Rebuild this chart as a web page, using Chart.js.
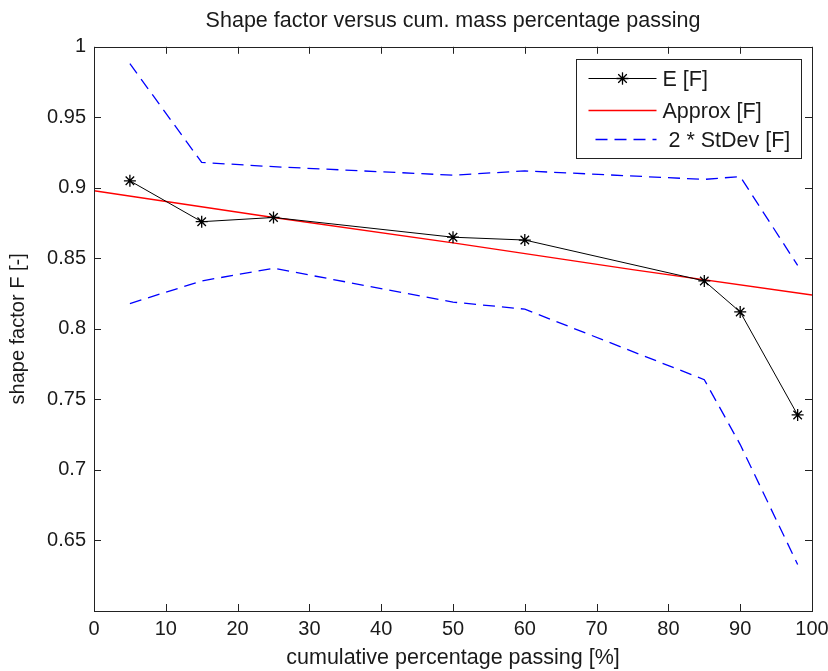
<!DOCTYPE html>
<html>
<head>
<meta charset="utf-8">
<script src="https://cdn.jsdelivr.net/npm/chart.js@4.4.1/dist/chart.umd.min.js"></script>
<style>
  html, body { margin: 0; padding: 0; background: #fff; }
  canvas { display: block; }
</style>
</head>
<body>
<canvas id="chart" width="828" height="671"></canvas>
<script>
// Cumulative mass percentage passing at which the shape factor was evaluated
const passing = [5, 15, 25, 50, 60, 85, 90, 98];
// Measured shape factor E [F]
const shapeE = [0.905, 0.876, 0.879, 0.865, 0.863, 0.834, 0.812, 0.739];
// Upper and lower 2 * StDev bands
const stdevUpper = [0.988, 0.918, 0.915, 0.909, 0.912, 0.906, 0.908, 0.845];
const stdevLower = [0.818, 0.834, 0.843, 0.819, 0.814, 0.764, 0.718, 0.633];
// Approximation curve
const approxX = [0, 25, 50, 75, 100];
const approxF = [0.898, 0.879, 0.861, 0.842, 0.824];
// Axis ticks
const xTicks = [0, 10, 20, 30, 40, 50, 60, 70, 80, 90, 100];
const yTicks = [0.6, 0.65, 0.7, 0.75, 0.8, 0.85, 0.9, 0.95, 1];

const FONT = "'Liberation Sans', Arial, Helvetica, sans-serif";
const TEXT = '#1a1a1a';

const pts = (xs, ys) => xs.map((x, i) => ({ x: x, y: ys[i] }));

// Box around the axes with inward tick marks on all four sides
const axesFrame = {
  id: 'axesFrame',
  afterDatasetsDraw(chart) {
    const { ctx, chartArea: a, scales } = chart;
    const len = 7;
    ctx.save();
    ctx.strokeStyle = '#222';
    ctx.lineWidth = 1;
    ctx.beginPath();
    scales.x.ticks.forEach(t => {
      const px = Math.round(scales.x.getPixelForValue(t.value)) + 0.5;
      ctx.moveTo(px, a.bottom); ctx.lineTo(px, a.bottom - len);
      ctx.moveTo(px, a.top); ctx.lineTo(px, a.top + len);
    });
    scales.y.ticks.forEach(t => {
      const py = Math.round(scales.y.getPixelForValue(t.value)) + 0.5;
      ctx.moveTo(a.left, py); ctx.lineTo(a.left + len, py);
      ctx.moveTo(a.right, py); ctx.lineTo(a.right - len, py);
    });
    ctx.stroke();
    ctx.strokeRect(Math.round(a.left) + 0.5, Math.round(a.top) + 0.5,
                   Math.round(a.right - a.left), Math.round(a.bottom - a.top));
    ctx.restore();
  }
};

// Boxed legend in the upper right corner of the axes
const boxLegend = {
  id: 'boxLegend',
  afterDraw(chart) {
    const { ctx, chartArea: a } = chart;
    const w = 225, h = 99;
    const left = Math.round(a.right - 11 - w) + 0.5;
    const top = Math.round(a.top + 12) + 0.5;
    const rows = [18, 50, 79.5];
    ctx.save();
    ctx.fillStyle = '#fff';
    ctx.fillRect(left, top, w, h);
    ctx.strokeStyle = '#222';
    ctx.lineWidth = 1;
    ctx.strokeRect(left, top, w, h);
    const entries = chart.data.datasets.filter(d => d.inLegend);
    entries.forEach((ds, i) => {
      const y = Math.round(top + rows[i]) + 0.5;
      ctx.save();
      ctx.strokeStyle = ds.borderColor;
      ctx.lineWidth = ds.borderWidth;
      ctx.setLineDash(ds.borderDash || []);
      ctx.lineDashOffset = ds.borderDash ? -7 : 0;
      ctx.beginPath();
      ctx.moveTo(left + 12, y);
      ctx.lineTo(left + 80, y);
      ctx.stroke();
      ctx.restore();
      if (ds.pointRadius > 0) {
        Chart.helpers.drawPoint(ctx, {
          pointStyle: ds.pointStyle, radius: ds.pointRadius, rotation: 0,
          borderWidth: ds.pointBorderWidth
        }, left + 46, y);
        ctx.strokeStyle = ds.pointBorderColor;
        ctx.lineWidth = ds.pointBorderWidth;
        ctx.stroke();
      }
      ctx.fillStyle = TEXT;
      ctx.font = '21.5px ' + FONT;
      ctx.textBaseline = 'middle';
      ctx.textAlign = 'left';
      ctx.fillText(ds.label, left + 86, y + 2);
    });
    ctx.restore();
  }
};

new Chart(document.getElementById('chart'), {
  type: 'line',
  data: {
    datasets: [
      {
        label: 'E [F]', inLegend: true,
        data: pts(passing, shapeE),
        borderColor: '#000', borderWidth: 1,
        pointStyle: 'star', pointRadius: 6,
        pointBorderColor: '#000', pointBorderWidth: 1.3,
        pointBackgroundColor: '#000'
      },
      {
        label: 'Approx [F]', inLegend: true,
        data: pts(approxX, approxF),
        borderColor: '#ff0000', borderWidth: 1.4, pointRadius: 0
      },
      {
        label: ' 2 * StDev [F]', inLegend: true,
        data: pts(passing, stdevUpper),
        borderColor: '#0000ff', borderWidth: 1.3, borderDash: [12, 7], pointRadius: 0
      },
      {
        label: ' 2 * StDev [F]', inLegend: false,
        data: pts(passing, stdevLower),
        borderColor: '#0000ff', borderWidth: 1.3, borderDash: [12, 7], pointRadius: 0
      }
    ]
  },
  options: {
    responsive: false,
    animation: false,
    devicePixelRatio: 1,
    events: [],
    layout: { padding: { left: 0, right: 16, top: 0, bottom: 0 } },
    elements: { line: { tension: 0, fill: false } },
    plugins: {
      legend: { display: false },
      tooltip: { enabled: false },
      title: {
        display: true,
        fullSize: false,
        text: 'Shape factor versus cum. mass percentage passing',
        color: TEXT,
        font: { family: FONT, size: 21.5, weight: 'normal' },
        padding: { top: 8, bottom: 13 }
      }
    },
    scales: {
      x: {
        type: 'linear', min: 0, max: 100,
        afterBuildTicks: s => { s.ticks = xTicks.map(v => ({ value: v })); },
        afterFit: s => { s.height = 60; s.paddingLeft = 0; s.paddingRight = 0; },
        grid: { display: false, drawTicks: false },
        border: { display: false },
        ticks: {
          color: TEXT, padding: 6, maxRotation: 0, autoSkip: false,
          font: { family: FONT, size: 20 },
          callback: v => String(v)
        },
        title: {
          display: true, text: 'cumulative percentage passing [%]',
          color: TEXT, font: { family: FONT, size: 21.5 },
          padding: { top: 0, bottom: 0 }
        }
      },
      y: {
        type: 'linear', min: 0.6, max: 1,
        afterBuildTicks: s => { s.ticks = yTicks.map(v => ({ value: v })); },
        afterFit: s => { s.width = 94; s.paddingTop = 0; s.paddingBottom = 0; },
        grid: { display: false, drawTicks: false },
        border: { display: false },
        ticks: {
          color: TEXT, padding: 8, autoSkip: false,
          font: { family: FONT, size: 20 },
          callback: v => (v <= 0.6 ? '' : String(parseFloat(v.toFixed(2))))
        },
        title: {
          display: true, text: 'shape factor F [-]',
          color: TEXT, font: { family: FONT, size: 20 },
          padding: { top: 6, bottom: 0 }
        }
      }
    }
  },
  plugins: [axesFrame, boxLegend]
});
</script>
</body>
</html>
